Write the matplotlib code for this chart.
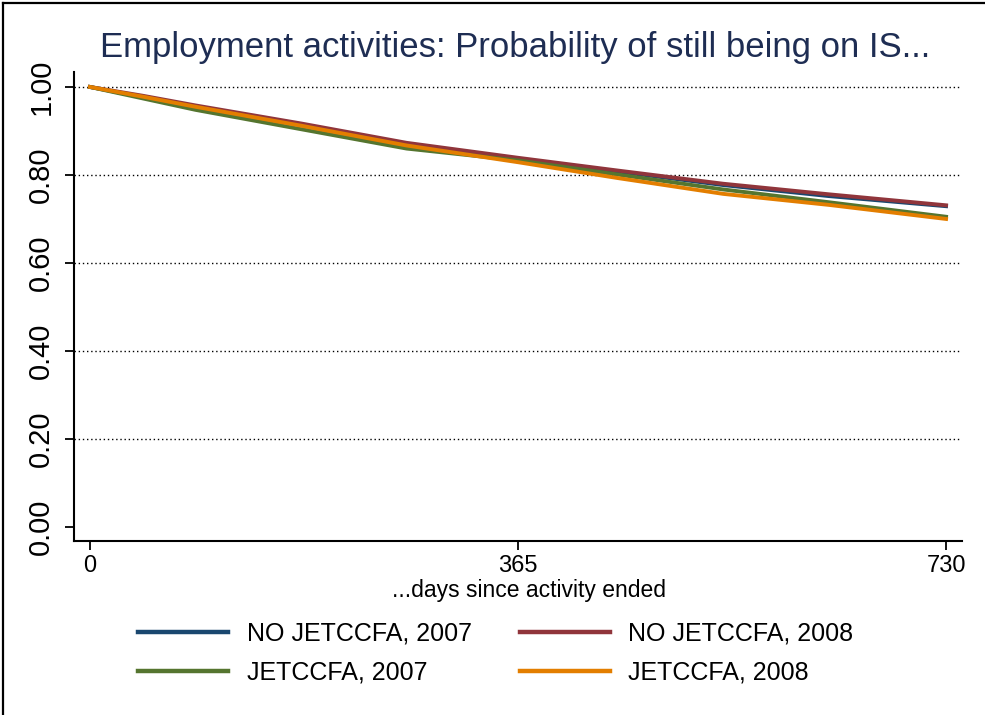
import matplotlib
matplotlib.use('Agg')
import matplotlib.pyplot as plt
from matplotlib.lines import Line2D

plt.rcParams['font.family'] = ['Liberation Sans', 'DejaVu Sans']

# Kaplan-Meier style survival estimates, read at a few points in time
days = [0, 45, 90, 180, 270, 365, 450, 540, 630, 730]
no_jet_2007 = [1.000, 0.977, 0.955, 0.913, 0.867, 0.836, 0.808, 0.777, 0.752, 0.729]
no_jet_2008 = [1.000, 0.980, 0.958, 0.917, 0.873, 0.839, 0.810, 0.780, 0.756, 0.731]
jet_2007 = [1.000, 0.974, 0.948, 0.904, 0.860, 0.833, 0.801, 0.767, 0.738, 0.705]
jet_2008 = [1.000, 0.978, 0.955, 0.912, 0.867, 0.829, 0.793, 0.757, 0.732, 0.700]

series = [
    ('NO JETCCFA, 2007', no_jet_2007, '#1a476f'),
    ('NO JETCCFA, 2008', no_jet_2008, '#90353b'),
    ('JETCCFA, 2007', jet_2007, '#55752f'),
    ('JETCCFA, 2008', jet_2008, '#e37e00'),
]
x_ticks = [0, 365, 730]
y_ticks = [0.0, 0.2, 0.4, 0.6, 0.8, 1.0]

W, H = 985, 715
fig = plt.figure(figsize=(W / 100, H / 100), dpi=100)
fig.patch.set_facecolor('white')
ax = fig.add_axes([74 / W, 1 - 541 / H, (962 - 74) / W, (541 - 72) / H])

for yv in y_ticks[1:]:
    ax.axhline(yv, color='black', linestyle=(0, (1, 2)), linewidth=1.0, zorder=1)

handles = {}
for label, vals, color in series:
    line, = ax.plot(days, vals, color=color, linewidth=2.8, zorder=3)
    handles[label] = line

ax.set_xlim(-13.6, 743.6)
ax.set_ylim(-0.032, 1.034)
ax.set_xticks(x_ticks)
ax.set_yticks(y_ticks)
ax.set_yticklabels([f'{v:.2f}' for v in y_ticks], rotation=90, va='center')
ax.tick_params(axis='y', length=6.5, width=1.3, pad=7, labelsize=21)
ax.tick_params(axis='x', length=6.5, width=1.3, pad=3.5, labelsize=17)
ax.spines['top'].set_visible(False)
ax.spines['right'].set_visible(False)
for s in ('left', 'bottom'):
    ax.spines[s].set_linewidth(1.5)
ax.set_xlabel('...days since activity ended', fontsize=16.5)
ax.xaxis.set_label_coords((529 - 74) / 888, -0.081)

fig.text(515 / W, 1 - 47 / H, 'Employment activities: Probability of still being on IS...',
         ha='center', va='center', fontsize=25, color='#1e2d53')

order = ['NO JETCCFA, 2007', 'JETCCFA, 2007', 'NO JETCCFA, 2008', 'JETCCFA, 2008']
leg_handles = [Line2D([], [], color=handles[k].get_color(), linewidth=3.2) for k in order]
fig.legend(leg_handles, order, ncol=2, loc='center', bbox_to_anchor=(496 / W, 1 - 653 / H),
           frameon=False, fontsize=18, handlelength=3.6, handletextpad=0.75,
           columnspacing=1.9, labelspacing=0.6)

# outer border along the left and top edges
fig.add_artist(Line2D([3 / W, 3 / W], [0, 1 - 3 / H], transform=fig.transFigure,
                      color='black', linewidth=1.6))
fig.add_artist(Line2D([3 / W, 1], [1 - 3 / H, 1 - 3 / H], transform=fig.transFigure,
                      color='black', linewidth=1.6))

fig.savefig('out.png', dpi=100, facecolor='white')
